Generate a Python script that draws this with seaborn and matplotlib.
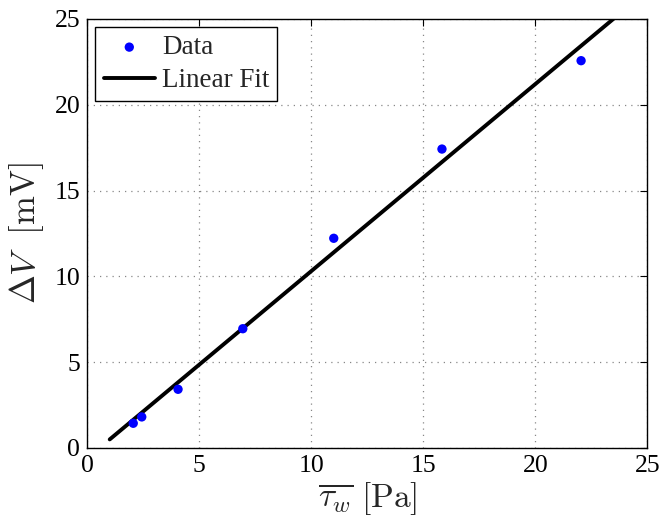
"""Voltage change vs mean wall shear stress, with linear fit."""

import matplotlib
matplotlib.use("Agg")
import matplotlib.pyplot as plt
import seaborn as sns
import numpy as np
import pandas as pd

# measured points
tau_w = [2.05, 2.43, 4.05, 6.94, 11.0, 15.83, 22.04]
delta_v = [1.44, 1.81, 3.42, 6.95, 12.22, 17.42, 22.57]

# linear fit y = slope * x + intercept, drawn from x=1 onward
fit_slope = 1.09
fit_intercept = -0.59
fit_x = [1.0, 25.0]

sns.set_theme(style="white")
plt.rcParams["font.family"] = ["Liberation Serif", "DejaVu Serif"]
plt.rcParams["mathtext.fontset"] = "cm"

df = pd.DataFrame({"x": tau_w, "y": delta_v})
fit_df = pd.DataFrame({"x": fit_x, "y": [fit_slope * v + fit_intercept for v in fit_x]})

fig = plt.figure(figsize=(6.64, 5.2), dpi=100)
ax = fig.add_axes([0.1315, 0.1385, 0.8435, 0.825])

sns.lineplot(data=fit_df, x="x", y="y", ax=ax, color="black", linewidth=2.8,
             label="Linear Fit", zorder=2)
sns.scatterplot(data=df, x="x", y="y", ax=ax, color="blue", s=45, edgecolor="none",
                label="Data", zorder=3)

ax.set_xlim(0, 25)
ax.set_ylim(0, 25)
ax.set_xticks(np.arange(0, 26, 5))
ax.set_yticks(np.arange(0, 26, 5))
ax.grid(True, color="#555555", linestyle=(0, (1, 4)), linewidth=0.9, alpha=0.7)
ax.tick_params(direction="in", top=True, right=True, length=5, width=0.8,
               labelsize=18.5, pad=5, colors="black")
for sp in ax.spines.values():
    sp.set_color("black")
    sp.set_linewidth(1.0)

ax.set_xlabel(r"$\overline{\tau_w}\ \mathrm{[Pa]}$", fontsize=24, labelpad=2)
ax.set_ylabel(r"$\Delta V\ \ \mathrm{[mV]}$", fontsize=25, labelpad=6)

handles, labels = ax.get_legend_handles_labels()
order = [labels.index("Data"), labels.index("Linear Fit")]
leg = ax.legend([handles[i] for i in order], [labels[i] for i in order],
                loc="upper left", fontsize=19.5, fancybox=False, framealpha=1,
                edgecolor="black", borderaxespad=0.3, handlelength=1.9,
                borderpad=0.3, labelspacing=0.3, handletextpad=0.25)
leg.get_frame().set_linewidth(1.0)

fig.savefig("out.png", dpi=100)
plt.close(fig)
